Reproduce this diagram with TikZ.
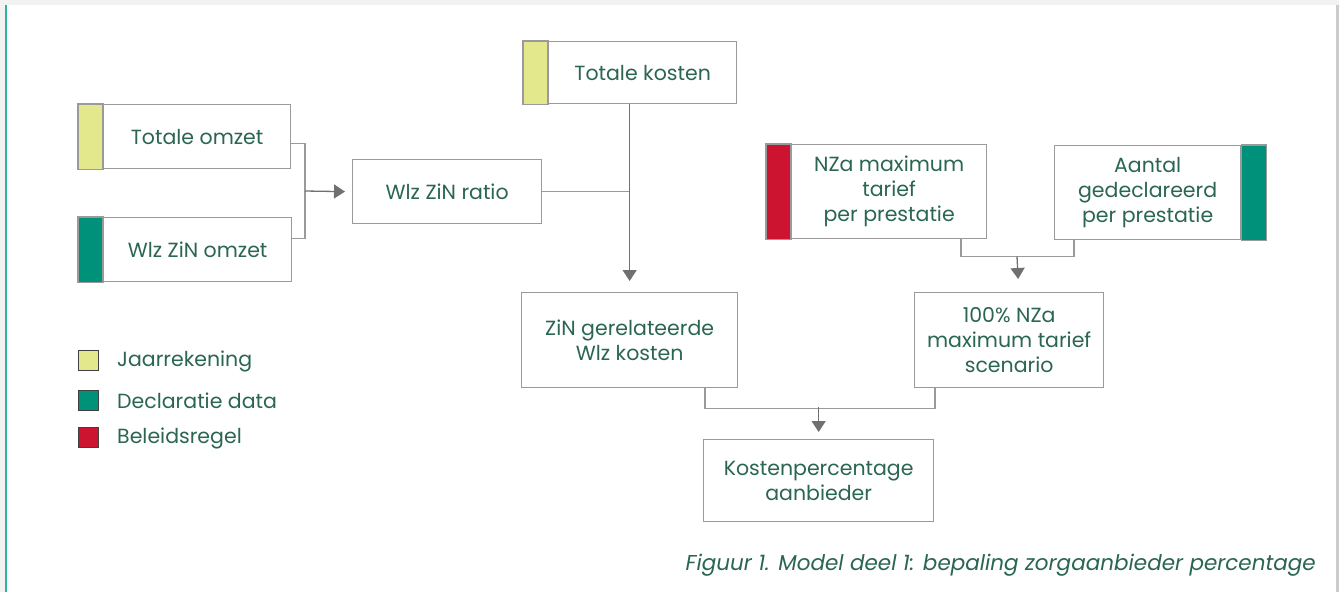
\documentclass[tikz,border=0pt]{standalone}
\usepackage{fontspec}
\setmainfont{Poppins}
\usetikzlibrary{arrows.meta,calc}
\definecolor{yel}{HTML}{E3E88D}
\definecolor{teal2}{HTML}{00917B}
\definecolor{red2}{HTML}{CC1430}
\definecolor{txt}{HTML}{2A6650}
\definecolor{bord}{HTML}{9A9A9A}
\definecolor{arr}{HTML}{707070}
\definecolor{tealline}{HTML}{2BB3A0}
\tikzset{
  box/.style={draw=bord, line width=1.3pt, anchor=north west, inner sep=0pt,
    align=center, text=txt, font=\fontsize{20.5}{25}\selectfont},
  bar/.style={draw=bord, line width=1.3pt},
  conn/.style={draw=bord, line width=1.3pt},
  arrowc/.style={draw=arr, line width=1.3pt, -{Triangle[length=11pt,width=14pt]}},
  legsq/.style={draw=black!75, line width=1pt, minimum size=20pt, inner sep=0pt, anchor=north west},
  legtxt/.style={anchor=west, text=txt, font=\fontsize{20.5}{25}\selectfont, inner sep=0pt},
}
\begin{document}
\begin{tikzpicture}[x=1pt,y=-1pt]
\useasboundingbox (0,0) rectangle (1339,592);
% page background and panel
\fill[black!5] (0,0) rectangle (1339,592);
\fill[white] (7,5) rectangle (1336,592);
\fill[black!20] (1336,5) rectangle (1339,592);
\fill[tealline] (5,5) rectangle (7,592);

% boxes (text area) ; coloured bars alongside
\node[box, minimum width=187pt, minimum height=64pt] (to) at (103,104) {Totale omzet};
\node[box, minimum width=188pt, minimum height=64pt] (wo) at (103,217) {Wlz ZiN omzet};
\node[box, minimum width=189pt, minimum height=64pt] (ra) at (352,159) {Wlz ZiN ratio};
\node[box, minimum width=188pt, minimum height=62pt] (tk) at (548,41) {Totale kosten};
\node[box, minimum width=195pt, minimum height=94pt] (nz) at (791,144) {NZa maximum\\tarief\\per prestatie};
\node[box, minimum width=186pt, minimum height=94pt] (aa) at (1054,145) {Aantal\\gedeclareerd\\per prestatie};
\node[box, minimum width=216pt, minimum height=95pt] (zg) at (521,292) {ZiN gerelateerde\\Wlz kosten};
\node[box, minimum width=189pt, minimum height=95pt] (sc) at (914,292) {100\% NZa\\maximum tarief\\scenario};
\node[box, minimum width=230pt, minimum height=82pt] (kp) at (703,439) {Kostenpercentage\\aanbieder};

\draw[bar, fill=yel] (to.north west) rectangle ($(to.south west)+(-25,0)$);
\draw[bar, fill=teal2] (wo.north west) rectangle ($(wo.south west)+(-25,0)$);
\draw[bar, fill=yel] (tk.north west) rectangle ($(tk.south west)+(-25,0)$);
\draw[bar, fill=red2] (nz.north west) rectangle ($(nz.south west)+(-25,0)$);
\draw[bar, fill=teal2] (aa.north east) rectangle ($(aa.south east)+(25,0)$);

% connectors
\coordinate (j1) at (305,191);
\draw[conn] ($(to.east)+(0,7)$) -| (j1);
\draw[conn] ($(wo.east)+(0,-11)$) -| (j1);
\draw[arrowc] (j1) -- ($(ra.west)+(-7,0)$);

\coordinate (k0) at (zg.north |- tk.south);
\coordinate (j2) at (zg.north |- ra.east);
\draw[conn] (ra.east) -- (j2);
\draw[arrowc] (k0) -- ($(zg.north)+(0,-11)$);

\coordinate (n1) at ($(nz.south west)+(170,0)$);
\coordinate (a1) at ($(aa.south west)+(20,0)$);
\draw[conn] (n1) -- ++(0,17) -| (a1);
\coordinate (j3) at ($(n1)+(56,17)$);
\draw[arrowc] (j3) -- ($(sc.north)+(9,-13)$);

\coordinate (z1) at ($(zg.south west)+(184,0)$);
\coordinate (s1) at ($(sc.south west)+(21,0)$);
\draw[conn] (z1) -- ++(0,20) -| (s1);
\coordinate (j4) at (kp.north |- 0,407);
\draw[arrowc] (j4) -- ($(kp.north)+(0,-7)$);

% legend
\node[legsq, fill=yel] (l1) at (78,350) {};
\node[legsq, fill=teal2] (l2) at (78,390) {};
\node[legsq, fill=red2] (l3) at (78,427) {};
\node[legtxt] (t1) at (117,361) {Jaarrekening};
\node[legtxt] (t2) at (117,401) {Declaratie data};
\node[legtxt] (t3) at (117,438) {Beleidsregel};

% caption
\node[anchor=east, text=txt, inner sep=0pt, font=\fontsize{21.5}{25}\selectfont\itshape] (cap) at (1316,565) {Figuur 1. Model deel 1: bepaling zorgaanbieder percentage};
\end{tikzpicture}
\end{document}
